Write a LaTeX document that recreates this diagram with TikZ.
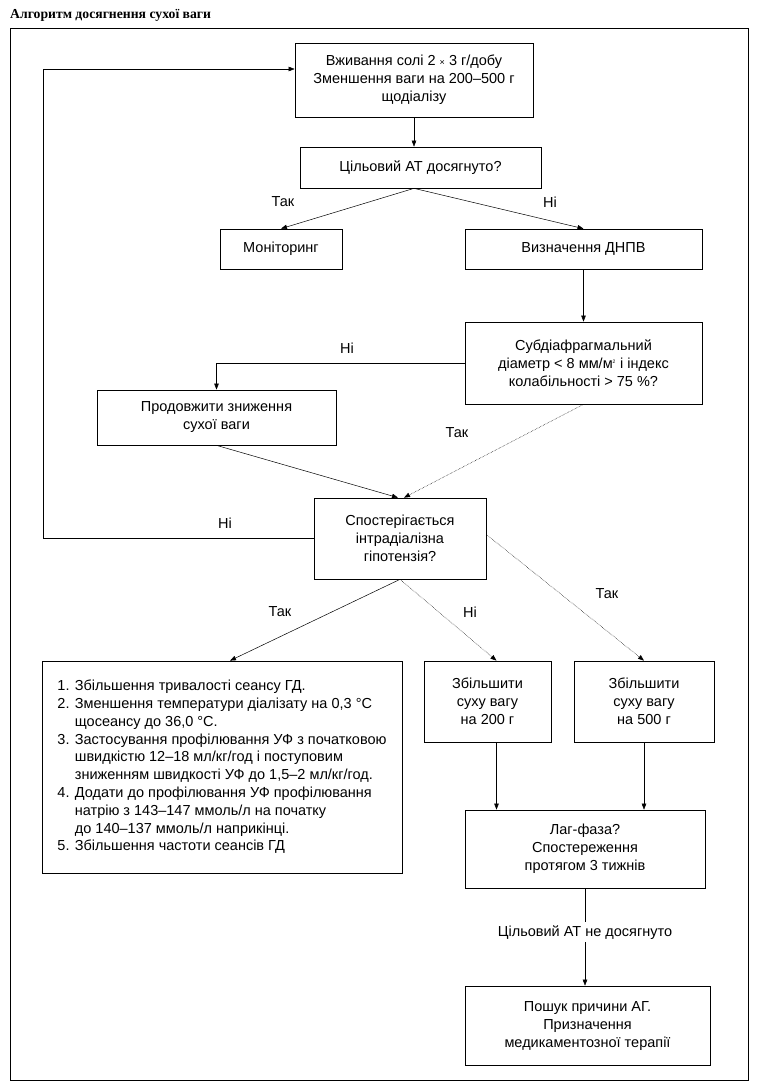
\documentclass[tikz,border=0pt]{standalone}
\usepackage{fontspec}
\setmainfont{Liberation Sans}
\newfontfamily\titlefont{Liberation Serif}
\usetikzlibrary{positioning,calc,arrows.meta}

\tikzset{
  box/.style={draw, line width=0.7pt, align=center, inner sep=2pt, font=\fontsize{14.5}{18}\selectfont},
  lbl/.style={font=\fontsize{14.5}{18}\selectfont, inner sep=1pt},
  arrow/.style={-{Triangle[length=6pt,width=4.5pt]}, line width=0.5pt},
  dotarrow/.style={arrow, densely dotted},
}

\begin{document}
\begin{tikzpicture}[x=1pt,y=-1pt]
    \useasboundingbox (0,0) rectangle (756,1087);

    % Title and frame
    \node[anchor=west, inner sep=0pt, font=\titlefont\bfseries\fontsize{13.7}{16}\selectfont] (title) at (10,15) {Алгоритм досягнення сухої ваги};
    \draw[line width=0.9pt] (10,28) rectangle (748,1080);

    % Upper part
    \node[box, minimum width=238, minimum height=74] (salt) at (414,80)
        {Вживання солі 2 {\small×} 3 г/добу\\Зменшення ваги на 200–500 г\\щодіалізу};
    \node[box, minimum width=241, minimum height=41] (target) at (420.5,167.5) {Цільовий АТ досягнуто?};
    \node[box, minimum width=122, minimum height=40] (monitor) at (281,249) {Моніторинг};
    \node[box, minimum width=237, minimum height=40] (dnpv) at (583.5,249) {Визначення ДНПВ};
    \node[box, minimum width=237, minimum height=82] (subd) at (583.5,363)
        {Субдіафрагмальний\\діаметр < 8 мм/м\textsuperscript{\tiny 2} і індекс\\колабільності > 75 \%?};
    \node[box, minimum width=239, minimum height=55] (lower) at (216.5,417.5) {Продовжити зниження\\сухої ваги};
    \node[box, minimum width=172, minimum height=81] (hypo) at (400,538.5)
        {Спостерігається\\інтрадіалізна\\гіпотензія?};

    % Lower part
    \node[box, align=left, minimum width=360, minimum height=212, font=\fontsize{14.5}{17.8}\selectfont] (list) at (222,767)
        {1. Збільшення тривалості сеансу ГД.\\
         2. Зменшення температури діалізату на 0,3 °C\\
         \hphantom{2. }щосеансу до 36,0 °C.\\
         3. Застосування профілювання УФ з початковою\\
         \hphantom{3. }швидкістю 12–18 мл/кг/год і поступовим\\
         \hphantom{3. }зниженням швидкості УФ до 1,5–2 мл/кг/год.\\
         4. Додати до профілювання УФ профілювання\\
         \hphantom{4. }натрію з 143–147 ммоль/л на початку\\
         \hphantom{4. }до 140–137 ммоль/л наприкінці.\\
         5. Збільшення частоти сеансів ГД};
    \node[box, minimum width=127, minimum height=81] (inc200) at (487.5,701.5) {Збільшити\\суху вагу\\на 200 г};
    \node[box, minimum width=140, minimum height=81] (inc500) at (644,701.5) {Збільшити\\суху вагу\\на 500 г};
    \node[box, minimum width=240, minimum height=78] (lag) at (585,849) {Лаг-фаза?\\Спостереження\\протягом 3 тижнів};
    \node[box, minimum width=245, minimum height=79] (search) at (587.5,1025.5)
        {Пошук причини АГ.\\Призначення\\медикаментозної терапії};

    % Helper points
    \coordinate (loop) at (43,69);
    \coordinate (t200) at ($(inc200.north)+(9,0)$);
    \coordinate (b200) at ($(inc200.south)+(9,0)$);

    % Connectors
    \draw[arrow] (salt.south) -- (salt.south |- target.north);
    \draw[arrow] (salt.south |- target.south) -- (monitor.north);
    \draw[arrow] (salt.south |- target.south) -- (dnpv.north);
    \draw[arrow] (dnpv.south) -- (subd.north);
    \draw[arrow] (subd.west) -| (lower.north);
    \draw[arrow] (lower.south) -- ($(hypo.north)+(-2,0)$);
    \draw[dotarrow] (subd.south) -- ($(hypo.north)+(4,0)$);
    \draw[arrow] (hypo.west) -| (loop) -- (loop -| salt.west);
    \draw[arrow] (hypo.south) -- ($(list.north)+(8,0)$);
    \draw[dotarrow] (hypo.south) -- (t200);
    \draw[dotarrow] ($(hypo.east)+(0,-4)$) -- (inc500.north);
    \draw[arrow] (b200) -- (b200 |- lag.north);
    \draw[arrow] (inc500.south) -- (inc500.south |- lag.north);
    \draw[arrow] (lag.south) -- (lag.south |- search.north)
        node[lbl, pos=0.45, fill=white, inner sep=3pt] (fail) {Цільовий АТ не досягнуто};

    % Labels
    \node[lbl] (yes1) at (283,202) {Так};
    \node[lbl] (no1) at (550,202) {Ні};
    \node[lbl] (no2) at (347,348) {Ні};
    \node[lbl] (yes2) at (457,433) {Так};
    \node[lbl] (no3) at (225,523) {Ні};
    \node[lbl] (yes3) at (280,612) {Так};
    \node[lbl] (no4) at (470,612) {Ні};
    \node[lbl] (yes4) at (607,594) {Так};
\end{tikzpicture}
\end{document}
